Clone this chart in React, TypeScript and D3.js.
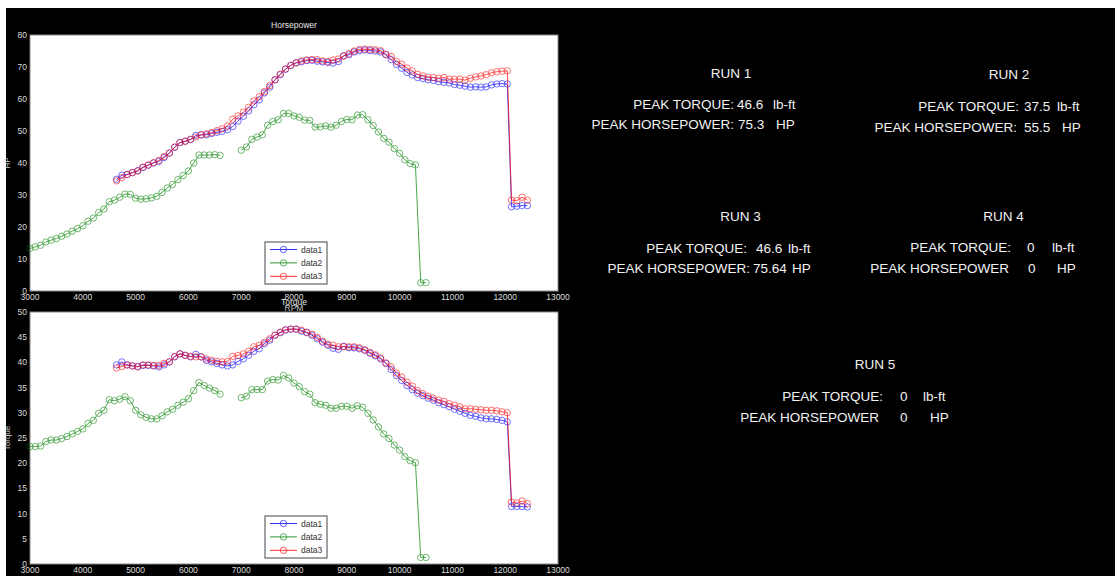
import React, { useEffect, useRef } from 'react';
import * as d3 from 'd3';

// RPM grid shared by run 1 (data1) and run 3 (data3)
const rpmRun13 = [
  4640, 4740, 4840, 4940, 5040, 5140, 5240, 5340, 5440, 5540,
  5640, 5740, 5840, 5940, 6040, 6140, 6240, 6340, 6440, 6540,
  6640, 6740, 6840, 6940, 7040, 7140, 7240, 7340, 7440, 7540,
  7640, 7740, 7840, 7940, 8040, 8140, 8240, 8340, 8440, 8540,
  8640, 8740, 8840, 8940, 9040, 9140, 9240, 9340, 9440, 9540,
  9640, 9740, 9840, 9940, 10040, 10140, 10240, 10340, 10440, 10540,
  10640, 10740, 10840, 10940, 11040, 11140, 11240, 11340, 11440, 11540,
  11640, 11740, 11840, 11940, 12040,
  12120, 12220, 12320, 12420,
];

const hpRun1 = [
  34.9, 36.2, 36.4, 37.0, 37.6, 38.6, 39.3, 40.0, 40.5, 41.7,
  43.1, 44.9, 46.4, 46.8, 47.3, 48.6, 48.8, 48.8, 49.2, 49.6,
  49.9, 50.4, 51.4, 53.1, 54.6, 56.3, 58.2, 59.7, 61.9, 63.7,
  66.0, 67.6, 69.3, 70.5, 71.3, 71.6, 72.0, 72.1, 71.8, 71.6,
  71.4, 71.2, 71.7, 73.5, 73.8, 74.7, 75.1, 75.3, 75.1, 75.0,
  74.7, 73.8, 72.3, 70.8, 69.6, 68.3, 67.5, 66.7, 66.4, 66.0,
  65.8, 65.4, 65.2, 65.0, 64.5, 64.3, 64.0, 63.7, 63.8, 63.7,
  63.8, 64.4, 64.7, 64.8, 64.7,
  26.3, 26.5, 26.7, 26.7,
];

const torqueRun1 = [
  39.5, 40.1, 39.5, 39.3, 39.2, 39.4, 39.4, 39.3, 39.1, 39.5,
  40.1, 41.1, 41.7, 41.4, 41.1, 41.6, 41.1, 40.4, 40.1, 39.8,
  39.5, 39.3, 39.5, 40.2, 40.7, 41.4, 42.2, 42.7, 43.7, 44.4,
  45.4, 45.9, 46.4, 46.6, 46.6, 46.2, 45.9, 45.4, 44.7, 44.0,
  43.4, 42.8, 42.6, 43.2, 42.9, 42.9, 42.7, 42.4, 41.8, 41.3,
  40.7, 39.8, 38.6, 37.4, 36.4, 35.4, 34.6, 33.9, 33.4, 32.9,
  32.5, 32.0, 31.6, 31.2, 30.7, 30.3, 29.9, 29.5, 29.3, 29.0,
  28.8, 28.8, 28.7, 28.5, 28.2,
  11.4, 11.4, 11.4, 11.3,
];

const hpRun3 = [
  34.4, 35.4, 36.4, 37.0, 37.5, 38.7, 39.4, 40.1, 40.8, 42.0,
  43.1, 45.0, 46.4, 46.8, 47.4, 48.1, 48.8, 49.1, 49.5, 50.1,
  50.7, 51.6, 53.7, 54.7, 55.9, 57.4, 59.4, 60.7, 62.3, 64.2,
  66.0, 67.8, 69.4, 70.5, 71.3, 71.9, 72.2, 72.4, 72.3, 71.9,
  71.7, 72.2, 72.5, 73.4, 74.2, 75.0, 75.5, 75.6, 75.5, 75.4,
  75.1, 74.0, 73.3, 71.7, 70.9, 69.7, 68.8, 67.7, 67.2, 66.8,
  66.7, 66.5, 66.7, 66.2, 66.2, 66.2, 65.9, 66.5, 66.9, 67.2,
  67.6, 68.2, 68.5, 68.7, 68.8,
  28.4, 28.2, 29.3, 28.4,
];

const torqueRun3 = [
  38.9, 39.2, 39.5, 39.3, 39.1, 39.5, 39.5, 39.4, 39.4, 39.8,
  40.1, 41.2, 41.7, 41.4, 41.2, 41.1, 41.1, 40.7, 40.4, 40.2,
  40.1, 40.2, 41.2, 41.4, 41.7, 42.2, 43.1, 43.4, 44.0, 44.7,
  45.4, 46.0, 46.5, 46.6, 46.6, 46.4, 46.0, 45.6, 45.0, 44.2,
  43.6, 43.4, 43.1, 43.1, 43.1, 43.1, 42.9, 42.5, 42.0, 41.5,
  40.9, 39.9, 39.1, 37.9, 37.1, 36.1, 35.3, 34.4, 33.8, 33.3,
  32.9, 32.5, 32.3, 31.8, 31.5, 31.2, 30.8, 30.8, 30.7, 30.6,
  30.5, 30.5, 30.4, 30.2, 30.0,
  12.3, 12.1, 12.5, 12.0,
];

// run 2 (data2) has a gap around 6800 rpm
const rpmRun2 = [
  3000, 3100, 3200, 3300, 3400, 3500, 3600, 3700, 3800, 3900,
  4000, 4100, 4200, 4300, 4400, 4500, 4600, 4700, 4800, 4900,
  5000, 5100, 5200, 5300, 5400, 5500, 5600, 5700, 5800, 5900,
  6000, 6100, 6200, 6300, 6400, 6500, 6600, 6800,
  7000, 7100, 7200, 7300, 7400, 7500, 7600, 7700, 7800, 7900,
  8000, 8100, 8200, 8300, 8400, 8500, 8600, 8700, 8800, 8900,
  9000, 9100, 9200, 9300, 9400, 9500, 9600, 9700, 9800, 9900,
  10000, 10100, 10200, 10300, 10400, 10500,
];

const hpRun2 = [
  13.3, 13.8, 14.3, 15.3, 15.9, 16.4, 17.1, 17.8, 18.7, 19.5,
  20.4, 21.8, 22.8, 24.5, 25.6, 27.9, 28.4, 29.3, 30.3, 30.2,
  29.0, 28.7, 28.8, 29.1, 29.6, 30.8, 32.2, 33.3, 34.8, 36.1,
  37.5, 40.0, 42.5, 42.5, 42.5, 42.6, 42.4, null,
  44.0, 45.0, 47.4, 48.1, 48.8, 51.8, 53.0, 53.5, 55.5, 55.5,
  54.7, 54.3, 53.4, 53.3, 51.2, 51.3, 51.6, 51.2, 51.8, 53.0,
  53.6, 53.5, 55.0, 55.1, 53.5, 51.7, 49.7, 47.7, 46.5, 44.5,
  43.0, 41.0, 39.8, 39.4, 2.6, 2.6,
];

const torqueRun2 = [
  23.3, 23.3, 23.4, 24.3, 24.6, 24.6, 24.9, 25.3, 25.8, 26.3,
  26.8, 27.9, 28.5, 29.9, 30.5, 32.6, 32.4, 32.7, 33.2, 32.4,
  30.5, 29.6, 29.1, 28.8, 28.8, 29.4, 30.2, 30.7, 31.5, 32.1,
  32.8, 34.4, 36.0, 35.4, 34.9, 34.4, 33.7, null,
  33.0, 33.3, 34.6, 34.6, 34.6, 36.3, 36.6, 36.5, 37.4, 36.9,
  35.9, 35.2, 34.2, 33.7, 32.0, 31.7, 31.5, 30.9, 30.9, 31.3,
  31.3, 30.9, 31.4, 31.1, 29.9, 28.6, 27.2, 25.8, 24.9, 23.6,
  22.6, 21.3, 20.5, 20.1, 1.3, 1.3,
];

const rpmTicks = [3000, 4000, 5000, 6000, 7000, 8000, 9000, 10000, 11000, 12000, 13000];
const hpTicks = [0, 10, 20, 30, 40, 50, 60, 70, 80];
const torqueTicks = [0, 5, 10, 15, 20, 25, 30, 35, 40, 45, 50];
const legendNames = ['data1', 'data2', 'data3'];

const runTitles = ['RUN 1', 'RUN 2', 'RUN 3', 'RUN 4', 'RUN 5'];
const torqueLabels = ['PEAK TORQUE:', 'PEAK TORQUE:', 'PEAK TORQUE:', 'PEAK TORQUE:', 'PEAK TORQUE:'];
const hpLabels = ['PEAK HORSEPOWER:', 'PEAK HORSEPOWER:', 'PEAK HORSEPOWER:', 'PEAK HORSEPOWER', 'PEAK HORSEPOWER'];
const peakTorque = ['46.6', '37.5', '46.6', '0', '0'];
const peakHp = ['75.3', '55.5', '75.64', '0', '0'];

const W = 1115;
const H = 576;
const FONT = "'Liberation Sans', Arial, sans-serif";

const App = () => {
  const svgRef = useRef<SVGSVGElement>(null);

  useEffect(() => {
    const svg = d3.select(svgRef.current);
    svg.selectAll('*').remove();

    // white page edge + black figure
    svg.append('rect').attr('width', W).attr('height', H).attr('fill', '#fff');
    svg.append('rect').attr('x', 6).attr('y', 8).attr('width', W - 6).attr('height', H - 8).attr('fill', '#000');

    const colors = ['#0000ff', '#008000', '#ff0000'];

    const drawPanel = (cfg: any) => {
      const { top, bottom, left, right, yMax, yTicks, series, title, titleY, yLabel, xLabel, legendTop } = cfg;
      const x = d3.scaleLinear().domain([3000, 13000]).range([left, right]);
      const y = d3.scaleLinear().domain([0, yMax]).range([bottom, top]);

      if (title) {
        svg.append('text').attr('x', (left + right) / 2).attr('y', titleY)
          .attr('text-anchor', 'middle').attr('font-family', FONT).attr('font-size', 8.5)
          .attr('fill', '#e8e8e8').text(title);
      }

      svg.append('rect').attr('x', left).attr('y', top).attr('width', right - left)
        .attr('height', bottom - top).attr('fill', '#fff').attr('stroke', '#8a8a8a').attr('stroke-width', 1);

      // y label
      svg.append('text')
        .attr('transform', `translate(10, ${(top + bottom) / 2}) rotate(-90)`)
        .attr('text-anchor', 'middle').attr('font-family', FONT).attr('font-size', 8)
        .attr('fill', '#d0d0d0').text(yLabel);

      // tick labels
      svg.append('g').selectAll('text').data(yTicks).enter().append('text')
        .attr('x', left - 3).attr('y', (d: number) => y(d) + 3)
        .attr('text-anchor', 'end').attr('font-family', FONT).attr('font-size', 8.5)
        .attr('fill', '#dcdcdc').text((d: number) => d);

      svg.append('g').selectAll('text').data(rpmTicks).enter().append('text')
        .attr('x', (d: number) => x(d)).attr('y', bottom + 9)
        .attr('text-anchor', 'middle').attr('font-family', FONT).attr('font-size', 8.5)
        .attr('fill', '#dcdcdc').text((d: number) => d);

      if (xLabel) {
        svg.append('text').attr('x', (left + right) / 2).attr('y', bottom + 20)
          .attr('text-anchor', 'middle').attr('font-family', FONT).attr('font-size', 8.5)
          .attr('fill', '#c8c8c8').text(xLabel);
      }

      const line = d3.line<any>()
        .defined((d) => d.v != null)
        .x((d) => x(d.r))
        .y((d) => y(d.v));

      series.forEach((s: any, i: number) => {
        const pts = s.rpm.map((r: number, k: number) => ({ r, v: s.values[k] }));
        const g = svg.append('g').attr('opacity', 0.7);
        g.append('path').attr('d', line(pts)).attr('fill', 'none')
          .attr('stroke', colors[i]).attr('stroke-width', 1);
        g.selectAll('circle').data(pts.filter((p: any) => p.v != null)).enter().append('circle')
          .attr('cx', (d: any) => x(d.r)).attr('cy', (d: any) => y(d.v)).attr('r', 3.2)
          .attr('fill', 'none').attr('stroke', colors[i]).attr('stroke-width', 0.8);
      });

      // legend
      const lg = svg.append('g');
      lg.append('rect').attr('x', 265).attr('y', legendTop).attr('width', 62).attr('height', 42)
        .attr('fill', '#fff').attr('stroke', '#444').attr('stroke-width', 1);
      legendNames.forEach((name, i) => {
        const ly = legendTop + 7.5 + i * 13.4;
        const eg = lg.append('g').attr('opacity', 0.8);
        eg.append('line').attr('x1', 270).attr('x2', 297).attr('y1', ly).attr('y2', ly)
          .attr('stroke', colors[i]).attr('stroke-width', 1);
        eg.append('circle').attr('cx', 283.5).attr('cy', ly).attr('r', 3.2)
          .attr('fill', 'none').attr('stroke', colors[i]).attr('stroke-width', 0.8);
        lg.append('text').attr('x', 301).attr('y', ly + 3).attr('font-family', FONT)
          .attr('font-size', 8.5).attr('fill', '#333').text(name);
      });
    };

    drawPanel({
      top: 35, bottom: 291, left: 30, right: 558, yMax: 80, yTicks: hpTicks,
      series: [
        { rpm: rpmRun13, values: hpRun1 },
        { rpm: rpmRun2, values: hpRun2 },
        { rpm: rpmRun13, values: hpRun3 },
      ],
      title: 'Horsepower', titleY: 28, yLabel: 'HP', xLabel: 'RPM', legendTop: 242,
    });

    drawPanel({
      top: 312, bottom: 564, left: 30, right: 558, yMax: 50, yTicks: torqueTicks,
      series: [
        { rpm: rpmRun13, values: torqueRun1 },
        { rpm: rpmRun2, values: torqueRun2 },
        { rpm: rpmRun13, values: torqueRun3 },
      ],
      title: 'Torque', titleY: 305, yLabel: 'Torque', xLabel: null, legendTop: 516,
    });

    // run summary text blocks
    const layout = [
      { tx: 731, ty: 78, r1: 109, r2: 129, l1: 734, v1: 737, u1: 773, l2: 734, v2: 738, u2: 776 },
      { tx: 1009, ty: 79, r1: 111, r2: 131.5, l1: 1019, v1: 1024, u1: 1057, l2: 1017, v2: 1024, u2: 1062 },
      { tx: 740.5, ty: 221, r1: 252.5, r2: 273, l1: 747, v1: 756, u1: 788, l2: 750, v2: 753, u2: 792 },
      { tx: 1003.5, ty: 221, r1: 252, r2: 273, l1: 1011, v1: 1027, u1: 1052, l2: 1009, v2: 1028, u2: 1057 },
      { tx: 875, ty: 369, r1: 401, r2: 421.5, l1: 883, v1: 900, u1: 923, l2: 879, v2: 900, u2: 930 },
    ];
    const txt = (xp: number, yp: number, s: string, anchor = 'start') =>
      svg.append('text').attr('x', xp).attr('y', yp).attr('text-anchor', anchor)
        .attr('font-family', FONT).attr('font-size', 13.5).attr('fill', '#f2f2f2').text(s);

    runTitles.forEach((t, i) => {
      const p = layout[i];
      txt(p.tx, p.ty, t, 'middle');
      txt(p.l1, p.r1, torqueLabels[i], 'end');
      txt(p.v1, p.r1, peakTorque[i]);
      txt(p.u1, p.r1, 'lb-ft');
      txt(p.l2, p.r2, hpLabels[i], 'end');
      txt(p.v2, p.r2, peakHp[i]);
      txt(p.u2, p.r2, 'HP');
    });
  }, []);

  return (
    <svg
      ref={svgRef}
      width={W}
      height={H}
      style={{ position: 'absolute', left: 0, top: 0, display: 'block' }}
    />
  );
};

export default App;
